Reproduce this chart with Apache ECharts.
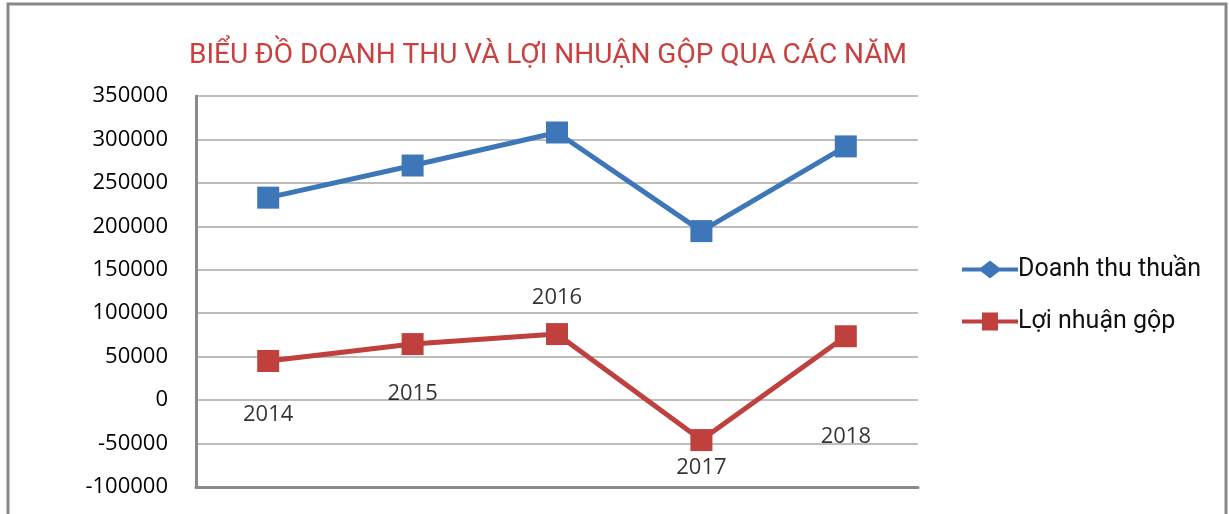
<!DOCTYPE html>
<html>
<head>
<meta charset="utf-8">
<script src="https://cdn.jsdelivr.net/npm/echarts@6/dist/echarts.min.js"></script>
<style>
  html, body { margin: 0; padding: 0; background: #fff; }
  #chart { width: 1229px; height: 514px; }
</style>
</head>
<body>
<div id="chart"></div>
<script>
var years = ['2014', '2015', '2016', '2017', '2018']
var doanhThu = [233000, 270000, 308000, 194500, 292000]
var loiNhuan = [45000, 64500, 76000, -46000, 73500]
// vị trí nhãn năm (theo giá trị trục tung), đặt tay như trong Excel
var yearLabelY = [-17000, 7000, 118000, -78000, -42000]

var blue = '#3E76BA'
var red = '#C0403D'

var chart = echarts.init(document.getElementById('chart'))

var option = {
    animation: false,
    title: {
        text: 'BIỂU ĐỒ DOANH THU VÀ LỢI NHUẬN GỘP QUA CÁC NĂM',
        left: 543,
        textAlign: 'center',
        top: 37,
        textStyle: {
            color: '#C9403F',
            fontFamily: 'Roboto',
            fontWeight: 'normal',
            fontSize: 28
        }
    },
    legend: {
        orient: 'vertical',
        left: 957,
        top: 252,
        itemGap: 27,
        itemWidth: 56,
        itemHeight: 18,
        textStyle: { fontFamily: 'Roboto', fontSize: 25, color: '#111', padding: [0, 0, 0, -5] },
        data: [
            { name: 'Doanh thu thuần', icon: 'path://M0,7 L19,7 L28,0 L37,7 L56,7 L56,11 L37,11 L28,18 L19,11 L0,11 Z' },
            { name: 'Lợi nhuận gộp', icon: 'path://M0,7 L20,7 L20,0 L36,0 L36,7 L56,7 L56,11 L36,11 L36,18 L20,18 L20,11 L0,11 Z' }
        ]
    },
    grid: { left: 196, right: 311, top: 96, bottom: 27 },
    xAxis: {
        type: 'category',
        data: years,
        boundaryGap: true,
        axisLine: { onZero: false, lineStyle: { color: '#8a8a8a', width: 3 } },
        axisTick: { show: false },
        axisLabel: { show: false },
        splitLine: { show: false }
    },
    yAxis: {
        type: 'value',
        min: -100000,
        max: 350000,
        interval: 50000,
        axisLine: { show: true, lineStyle: { color: '#8a8a8a', width: 3 } },
        axisTick: { show: false },
        axisLabel: {
            fontFamily: 'Open Sans', fontSize: 22, color: '#000', margin: 28,
            formatter: function(v) { return String(v) }
        },
        splitLine: { lineStyle: { color: '#bdbdbd', width: 2 } }
    },
    graphic: [{
        type: 'rect',
        shape: { x: 8, y: 4, width: 1218, height: 530 },
        style: { fill: null, stroke: '#888', lineWidth: 3 },
        silent: true
    }],
    series: [{
        name: 'Doanh thu thuần',
        type: 'line',
        data: doanhThu,
        symbol: 'rect',
        symbolSize: 22,
        lineStyle: { color: blue, width: 5 },
        itemStyle: { color: blue }
    }, {
        name: 'Lợi nhuận gộp',
        type: 'line',
        data: loiNhuan,
        symbol: 'rect',
        symbolSize: 22,
        lineStyle: { color: red, width: 5 },
        itemStyle: { color: red }
    }, {
        name: 'nhan',
        type: 'scatter',
        data: yearLabelY,
        symbolSize: 0,
        silent: true,
        label: {
            show: true,
            position: 'inside',
            formatter: function(p) { return years[p.dataIndex] },
            fontFamily: 'Open Sans',
            fontSize: 22,
            color: '#000'
        }
    }]
}

chart.setOption(option)
</script>
</body>
</html>
